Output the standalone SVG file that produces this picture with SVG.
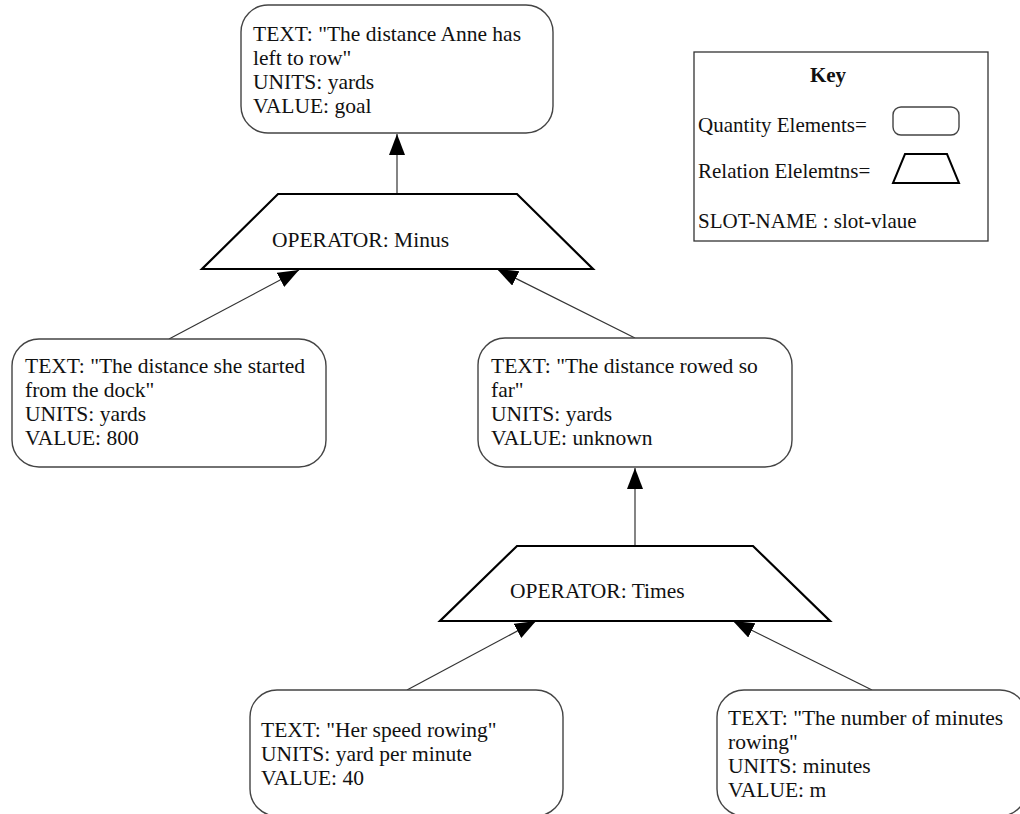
<svg xmlns="http://www.w3.org/2000/svg" width="1020" height="814" viewBox="0 0 1020 814">
<defs>
<style>
.q{fill:#fff;stroke:#444;stroke-width:1.4}
.r{fill:#fff;stroke:#000;stroke-width:2.2;stroke-linejoin:miter}
.t{font-family:"Liberation Serif","Times New Roman",serif;font-size:21.5px;fill:#111}
.k{font-family:"Liberation Serif","Times New Roman",serif;font-size:21px;fill:#111}
.c{stroke:#333;stroke-width:1.2;fill:none;marker-end:url(#ah)}
</style>
<marker id="ah" markerUnits="userSpaceOnUse" markerWidth="24" markerHeight="18" refX="21" refY="8" orient="auto">
<path d="M0,0 L21,8 L0,16 Z" fill="#000"/>
</marker>
</defs>
<rect width="1020" height="814" fill="#fff"/>
<g id="connectors">
<line class="c" x1="397" y1="194" x2="397" y2="134"/>
<line class="c" x1="169" y1="339" x2="299" y2="270"/>
<line class="c" x1="635" y1="338" x2="497" y2="269"/>
<line class="c" x1="635" y1="546" x2="635" y2="468"/>
<line class="c" x1="407" y1="690" x2="536" y2="621"/>
<line class="c" x1="872" y1="690" x2="733" y2="621"/>
</g>
<g id="goal">
<rect class="q" x="241" y="5" width="312" height="128" rx="27"/>
<text class="t" x="253" y="41">TEXT: "The distance Anne has</text>
<text class="t" x="253" y="65">left to row"</text>
<text class="t" x="253" y="89">UNITS: yards</text>
<text class="t" x="253" y="113">VALUE: goal</text>
</g>
<g id="minus">
<polygon class="r" points="278,194 517,194 593,269 202,269"/>
<text class="t" x="272" y="247">OPERATOR: Minus</text>
</g>
<g id="start">
<rect class="q" x="12" y="339" width="314" height="128" rx="27"/>
<text class="t" x="25" y="373">TEXT: "The distance she started</text>
<text class="t" x="25" y="397">from the dock"</text>
<text class="t" x="25" y="421">UNITS: yards</text>
<text class="t" x="25" y="445">VALUE: 800</text>
</g>
<g id="rowed">
<rect class="q" x="478" y="338" width="314" height="129" rx="27"/>
<text class="t" x="491" y="373">TEXT: "The distance rowed so</text>
<text class="t" x="491" y="397">far"</text>
<text class="t" x="491" y="421">UNITS: yards</text>
<text class="t" x="491" y="445">VALUE: unknown</text>
</g>
<g id="times">
<polygon class="r" points="517,546 753,546 830,621 440,621"/>
<text class="t" x="510" y="598">OPERATOR: Times</text>
</g>
<g id="speed">
<rect class="q" x="250" y="690" width="313" height="126" rx="27"/>
<text class="t" x="261" y="737">TEXT: "Her speed rowing"</text>
<text class="t" x="261" y="761">UNITS: yard per minute</text>
<text class="t" x="261" y="785">VALUE: 40</text>
</g>
<g id="minutes">
<rect class="q" x="717" y="690" width="310" height="126" rx="27"/>
<text class="t" x="728" y="725">TEXT: "The number of minutes</text>
<text class="t" x="728" y="749">rowing"</text>
<text class="t" x="728" y="773">UNITS: minutes</text>
<text class="t" x="728" y="797">VALUE: m</text>
</g>
<g id="key">
<rect x="694" y="52" width="294" height="189" fill="#fff" stroke="#333" stroke-width="1.3"/>
<text class="k" x="828" y="82" text-anchor="middle" font-weight="bold">Key</text>
<text class="k" x="698" y="132">Quantity Elements=</text>
<rect class="q" x="893" y="107" width="66" height="28" rx="8"/>
<text class="k" x="698" y="178">Relation Elelemtns=</text>
<polygon fill="#fff" stroke="#000" stroke-width="2" points="905,154 947,154 959,183 893,183"/>
<text class="k" x="698" y="228">SLOT-NAME : slot-vlaue</text>
</g>
</svg>
